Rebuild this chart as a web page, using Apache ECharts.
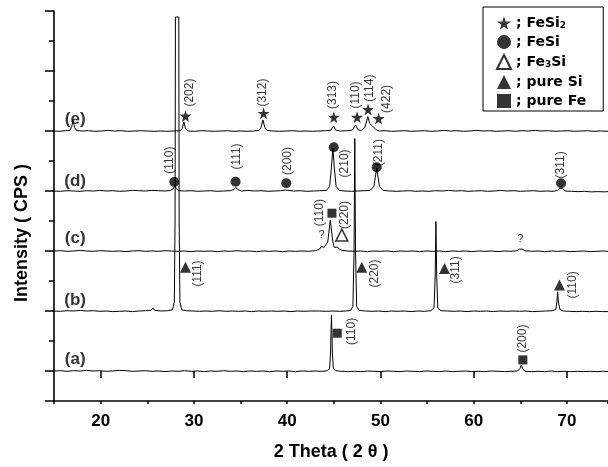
<!DOCTYPE html>
<html><head><meta charset="utf-8">
<script src="https://cdn.jsdelivr.net/npm/echarts@6/dist/echarts.min.js"></script>
<style>html,body{margin:0;padding:0;background:#fff}#c{width:608px;height:467px}</style>
</head><body><div id="c"></div>
<script>
// ---- data (2θ, stacked intensity in tick units) ----
const traceA = [[15,1.00],[15.7,1.01],[16.4,0.99],[17.1,1.01],[17.8,1.00],[18.5,1.02],[19.2,1.00],[19.9,1.01],[20.6,0.99],[21.3,1.00],[22.0,1.02],[22.7,1.01],[23.4,0.99],[24.1,1.00],[24.8,1.01],[25.5,0.99],[26.2,1.00],[26.9,0.98],[27.6,1.00],[28.3,0.99],[29.0,1.01],[29.7,0.99],[30.4,1.00],[31.1,0.98],[31.8,1.00],[32.5,0.99],[33.2,1.01],[33.9,0.99],[34.6,1.00],[35.3,0.98],[36.0,1.00],[36.7,0.99],[37.4,1.00],[38.1,0.98],[38.8,1.00],[39.5,0.99],[40.2,1.00],[40.9,0.98],[41.6,1.00],[42.3,0.99],[43.0,1.00],[43.7,0.99],[44.3,1.01],[44.55,1.08],[44.65,1.6],[44.75,2.87],[44.85,1.6],[44.95,1.08],[45.2,1.01],[45.8,0.99],[46.5,0.98],[47.2,0.99],[47.9,0.98],[48.6,1.00],[49.3,0.99],[50.0,0.98],[50.7,1.00],[51.4,0.99],[52.1,0.98],[52.8,1.00],[53.5,0.99],[54.2,0.98],[54.9,1.00],[55.6,0.99],[56.3,0.98],[57.0,1.00],[57.7,0.98],[58.4,0.99],[59.1,1.00],[59.8,0.98],[60.5,0.99],[61.2,0.98],[61.9,1.00],[62.6,0.99],[63.3,0.98],[64.0,0.99],[64.7,1.00],[64.95,1.08],[65.1,1.2],[65.25,1.08],[65.5,0.99],[66.2,0.98],[66.9,0.99],[67.6,0.98],[68.3,1.00],[69.0,0.98],[69.7,0.99],[70.4,0.98],[71.1,0.99],[71.8,0.98],[72.5,0.99],[73.2,0.98],[73.9,0.99],[74.4,0.98]];
const traceB = [[15,3.00],[15.7,2.99],[16.4,3.01],[17.1,3.00],[17.8,3.02],[18.5,3.00],[19.2,3.01],[19.9,2.99],[20.6,3.00],[21.3,2.98],[22.0,2.99],[22.7,3.00],[23.4,2.98],[24.1,3.00],[24.8,3.01],[25.4,3.02],[25.6,3.10],[25.8,3.02],[26.5,3.00],[27.2,3.01],[27.7,3.04],[27.9,3.3],[27.98,6.0],[28.02,12.8],[28.38,12.8],[28.42,6.0],[28.5,3.3],[28.7,3.04],[29.2,3.01],[29.9,3.00],[30.6,2.99],[31.3,3.00],[32.0,2.99],[32.7,3.01],[33.4,2.99],[34.1,3.00],[34.8,2.99],[35.5,3.00],[36.2,2.98],[36.9,3.00],[37.6,2.99],[38.3,3.00],[39.0,2.99],[39.7,3.00],[40.4,2.98],[41.1,3.00],[41.8,2.99],[42.5,3.00],[43.1,3.00],[43.3,3.05],[43.5,3.00],[44.2,2.99],[44.9,3.00],[45.6,2.99],[46.3,3.00],[46.8,3.02],[47.05,3.15],[47.17,5.0],[47.25,8.75],[47.33,5.0],[47.45,3.15],[47.7,3.02],[48.4,3.00],[49.1,2.99],[49.8,3.00],[50.5,2.98],[51.2,3.00],[51.9,2.99],[52.6,3.00],[53.3,2.98],[54.0,3.00],[54.7,2.99],[55.4,3.01],[55.75,3.1],[55.87,4.2],[55.95,5.98],[56.03,4.2],[56.15,3.1],[56.5,3.01],[57.2,3.00],[57.9,2.99],[58.6,3.00],[59.3,2.98],[60.0,3.00],[60.7,2.99],[61.4,3.00],[62.1,2.98],[62.8,3.00],[63.5,2.99],[64.2,3.00],[64.9,2.99],[65.6,3.00],[66.3,2.98],[67.0,2.99],[67.7,3.00],[68.4,3.01],[68.8,3.05],[68.92,3.3],[69.0,3.64],[69.08,3.3],[69.25,3.05],[69.6,3.00],[70.3,2.99],[71.0,2.98],[71.7,2.99],[72.4,2.98],[73.1,2.99],[73.8,2.98],[74.4,2.98]];
const traceC = [[15,5.00],[15.7,5.01],[16.4,4.99],[17.1,5.00],[17.8,5.02],[18.5,5.00],[19.2,4.99],[19.9,5.01],[20.6,5.00],[21.3,4.99],[22.0,5.00],[22.7,4.98],[23.4,5.00],[24.1,5.01],[24.8,4.99],[25.5,5.00],[26.2,4.99],[26.9,5.01],[27.6,5.00],[28.3,4.99],[29.0,5.00],[29.7,4.98],[30.4,5.00],[31.1,4.99],[31.8,5.00],[32.5,4.98],[33.2,5.00],[33.9,4.99],[34.6,5.01],[35.3,4.99],[36.0,5.00],[36.7,4.98],[37.4,5.00],[38.1,4.99],[38.8,5.00],[39.5,4.98],[40.2,5.00],[40.9,4.99],[41.6,5.00],[42.3,4.99],[43.0,5.01],[43.45,5.05],[43.65,5.15],[43.8,5.2],[43.95,5.12],[44.15,5.1],[44.35,5.3],[44.5,5.7],[44.62,6.03],[44.75,5.7],[44.9,5.3],[45.05,5.12],[45.25,5.1],[45.4,5.13],[45.6,5.06],[45.9,5.02],[46.5,5.00],[47.2,4.99],[47.9,5.00],[48.6,4.98],[49.3,5.00],[50.0,4.99],[50.7,5.00],[51.4,4.98],[52.1,5.00],[52.8,4.99],[53.5,5.00],[54.2,4.98],[54.9,5.00],[55.6,4.99],[56.3,5.00],[57.0,4.98],[57.7,5.00],[58.4,4.99],[59.1,5.00],[59.8,4.98],[60.5,5.00],[61.2,4.99],[61.9,5.00],[62.6,4.98],[63.3,5.00],[64.0,4.99],[64.6,5.01],[64.9,5.06],[65.05,5.10],[65.2,5.06],[65.5,5.01],[66.2,4.99],[66.9,5.00],[67.6,4.98],[68.3,5.00],[69.0,4.99],[69.7,5.00],[70.4,4.98],[71.1,4.99],[71.8,5.00],[72.5,4.98],[73.2,4.99],[73.9,5.00],[74.4,4.99]];
const traceD = [[15,7.00],[15.7,6.99],[16.4,7.01],[17.1,7.00],[17.8,6.99],[18.5,7.01],[19.2,7.00],[19.9,7.02],[20.6,7.00],[21.3,7.01],[22.0,6.99],[22.7,7.00],[23.4,7.02],[24.1,7.01],[24.8,7.00],[25.5,7.02],[26.2,7.01],[26.9,7.00],[27.5,7.02],[27.8,7.08],[27.95,7.17],[28.1,7.08],[28.4,7.01],[29.0,7.00],[29.7,7.01],[30.4,6.99],[31.1,7.00],[31.8,7.01],[32.5,6.99],[33.2,7.00],[33.9,7.01],[34.3,7.05],[34.5,7.12],[34.7,7.05],[35.1,7.00],[35.8,7.02],[36.5,7.00],[37.2,7.01],[37.9,6.99],[38.6,7.00],[39.3,7.01],[39.8,7.03],[40.0,7.06],[40.2,7.02],[40.7,7.00],[41.4,7.01],[42.1,6.99],[42.8,7.00],[43.5,7.01],[44.2,7.02],[44.55,7.15],[44.75,7.8],[44.9,8.43],[45.05,7.8],[45.25,7.15],[45.6,7.02],[46.2,7.00],[46.9,6.99],[47.6,7.00],[48.3,7.01],[48.9,7.02],[49.3,7.15],[49.45,7.45],[49.6,7.78],[49.75,7.45],[49.9,7.15],[50.3,7.02],[51.0,7.00],[51.7,6.99],[52.4,7.00],[53.1,7.01],[53.8,6.99],[54.5,7.00],[55.2,6.99],[55.9,7.01],[56.6,7.00],[57.3,7.02],[58.0,7.00],[58.7,7.01],[59.4,6.99],[60.1,7.00],[60.8,7.01],[61.5,6.99],[62.2,7.00],[62.9,7.02],[63.6,7.00],[64.3,7.01],[65.0,6.99],[65.7,7.00],[66.4,7.01],[67.1,6.99],[67.8,7.00],[68.5,6.99],[69.0,7.02],[69.25,7.1],[69.4,7.14],[69.55,7.08],[69.8,7.00],[70.5,6.99],[71.2,6.98],[71.9,6.99],[72.6,6.97],[73.3,6.98],[74.0,6.97],[74.4,6.98]];
const traceE = [[15,9.00],[15.6,8.99],[16.2,9.01],[16.7,9.02],[16.9,9.15],[17.05,9.37],[17.2,9.12],[17.4,9.02],[18.0,9.00],[18.7,9.01],[19.4,8.99],[20.1,9.00],[20.8,9.02],[21.5,9.00],[22.2,9.01],[22.9,8.99],[23.6,9.00],[24.3,9.01],[25.0,9.00],[25.7,8.99],[26.4,9.00],[27.1,8.99],[27.8,9.00],[28.5,9.01],[28.75,9.08],[28.93,9.31],[29.1,9.08],[29.4,9.00],[30.1,8.99],[30.8,9.01],[31.5,9.00],[32.2,8.99],[32.9,9.00],[33.6,9.01],[34.3,8.99],[35.0,9.00],[35.7,8.99],[36.4,9.00],[37.0,9.02],[37.2,9.12],[37.4,9.37],[37.6,9.12],[37.8,9.02],[38.5,9.00],[39.2,8.99],[39.9,9.00],[40.6,9.01],[41.3,8.99],[42.0,9.00],[42.7,8.99],[43.4,9.00],[44.1,9.01],[44.7,9.03],[44.97,9.17],[45.2,9.03],[45.7,9.00],[46.4,9.01],[47.0,9.03],[47.33,9.2],[47.6,9.04],[47.9,9.02],[48.3,9.1],[48.5,9.3],[48.65,9.48],[48.85,9.25],[49.1,9.18],[49.3,9.15],[49.55,9.04],[49.9,9.00],[50.5,9.01],[51.2,8.99],[51.9,9.00],[52.6,9.01],[53.3,8.99],[54.0,9.00],[54.7,9.01],[55.4,8.99],[56.1,9.00],[56.8,9.02],[57.5,9.00],[58.2,9.01],[58.9,8.99],[59.6,9.00],[60.3,9.02],[61.0,9.00],[61.7,9.01],[62.4,8.99],[63.1,9.00],[63.8,9.01],[64.5,8.99],[65.2,9.01],[65.9,9.00],[66.6,9.02],[67.3,9.00],[68.0,9.01],[68.7,8.99],[69.4,9.00],[70.1,9.01],[70.8,8.99],[71.5,9.00],[72.2,9.01],[72.9,8.99],[73.6,9.00],[74.4,8.99]];

// phase markers
const phaseNames = ['FeSi2', 'FeSi', 'Fe3Si', 'pure Si', 'pure Fe'];
const feSi2Marks = [[29.1,9.5],[37.47,9.59],[45.0,9.46],[47.5,9.46],[48.67,9.72],[49.8,9.42]];
const feSiMarks = [[27.9,7.3],[34.47,7.31],[39.9,7.26],[45.0,8.46],[49.6,7.79],[69.37,7.26]];
const fe3SiMarks = [[45.86,5.53]];
const siMarks = [[29.1,4.46],[48.0,4.46],[56.87,4.42],[69.2,3.87]];
const feMarks = [[44.8,6.26],[45.37,2.26],[65.27,1.37]];

// hkl labels (x, y, text)
const hklLabels = [
  [29.54,10.28,'(202)'],[37.36,10.28,'(312)'],[44.86,10.2,'(313)'],[47.33,10.2,'(110)'],[48.83,10.43,'(114)'],[50.65,10.07,'(422)'],
  [27.4,8.03,'(110)'],[34.6,8.15,'(111)'],[40.04,8.0,'(200)'],[46.22,7.92,'(210)'],[49.79,8.28,'(211)'],[69.37,7.87,'(311)'],
  [43.47,6.28,'(110)'],[46.15,6.2,'(220)'],
  [30.43,4.25,'(111)'],[49.36,4.25,'(220)'],[58.11,4.37,'(311)'],[70.61,3.87,'(110)'],
  [46.87,2.32,'(110)'],[65.25,2.08,'(200)']
];
const traceNames = [[17.27,1.4,'(a)'],[17.27,3.37,'(b)'],[17.27,5.43,'(c)'],[17.27,7.33,'(d)'],[17.27,9.4,'(e)']];
const unknownMarks = [[43.7,5.53,'?'],[65.0,5.39,'?']];

const xTitle = '2 Theta ( 2 θ )';
const yTitle = 'Intensity ( CPS )';

const STAR = 'path://M50,0 L61,35 L98,35 L68,57 L79,91 L50,70 L21,91 L32,57 L2,35 L39,35 Z';
const FONT = 'Liberation Sans';

const chart = echarts.init(document.getElementById('c'), null, {renderer: 'canvas'});

function lineSeries(d) {
  return {type: 'line', data: d, xAxisIndex: 0, yAxisIndex: 0, symbol: 'none', silent: true,
    lineStyle: {color: '#000', width: 1}, z: 2};
}
function markSeries(name, d, symbol, size, itemStyle) {
  return {type: 'scatter', name: name, data: d, xAxisIndex: 0, yAxisIndex: 0, symbol: symbol,
    symbolSize: size, itemStyle: itemStyle, z: 4};
}
function textSeries(d, rotate, size, weight) {
  return {type: 'scatter', data: d, xAxisIndex: 0, yAxisIndex: 0, symbol: 'circle', symbolSize: 0, z: 5,
    silent: true,
    label: {show: true, position: 'inside', rotate: rotate, formatter: p => p.value[2],
      color: '#000', fontFamily: FONT, fontSize: size, fontWeight: weight}};
}

const axisLineStyle = {color: '#000', width: 1.6};

chart.setOption({
  animation: false,
  backgroundColor: '#fff',
  grid: {left: 54, right: 0, top: 11, bottom: 66, containLabel: false},
  legend: {
    data: phaseNames, orient: 'vertical', left: 483, top: 7,
    padding: [9, 17, 3, 13], itemGap: 5, itemWidth: 14, itemHeight: 14,
    borderColor: '#000', borderWidth: 1, backgroundColor: '#fff',
    selectedMode: false,
    formatter: n => '; ' + n.replace(/(\d)/, '{s|$1}'),
    textStyle: {color: '#000', fontFamily: 'DejaVu Sans', fontWeight: 'bold', fontSize: 14,
      rich: {s: {fontFamily: 'DejaVu Sans', fontWeight: 'bold', fontSize: 9, verticalAlign: 'bottom', padding: [4, 0, 0, 0]}}}
  },
  xAxis: [
    {type: 'value', min: 15, max: 74.4, interval: 5, position: 'bottom',
      axisLine: {lineStyle: axisLineStyle}, axisTick: {length: 3, lineStyle: {color: '#000', width: 1.5}},
      axisLabel: {show: false}, splitLine: {show: false}},
    {type: 'value', min: 15, max: 74.4, minInterval: 10, maxInterval: 10, position: 'bottom',
      axisLine: {show: false}, axisTick: {length: 7, lineStyle: {color: '#000', width: 1.5}},
      axisLabel: {show: true, margin: 12, color: '#000', fontFamily: FONT, fontWeight: 'bold', fontSize: 17,
        showMinLabel: false, showMaxLabel: false},
      splitLine: {show: false},
      name: xTitle, nameLocation: 'middle', nameGap: 42,
      nameTextStyle: {color: '#000', fontFamily: FONT, fontWeight: 'bold', fontSize: 18}}
  ],
  yAxis: [
    {type: 'value', min: 0, max: 13, interval: 1, position: 'left',
      axisLine: {lineStyle: axisLineStyle}, axisTick: {length: 5, lineStyle: {color: '#000', width: 1.5}},
      axisLabel: {show: false}, splitLine: {show: false}},
    {type: 'value', min: -1, max: 12, minInterval: 2, maxInterval: 2, position: 'left',
      axisLine: {show: false}, axisTick: {length: 9, lineStyle: {color: '#000', width: 1.5}},
      axisLabel: {show: false}, splitLine: {show: false}}
  ],
  graphic: [{
    type: 'text', x: 22, y: 233, rotation: Math.PI / 2,
    style: {text: yTitle, fill: '#000', font: 'bold 18px "Liberation Sans"', textAlign: 'center', textVerticalAlign: 'middle'}
  }],
  series: [
    lineSeries(traceA), lineSeries(traceB), lineSeries(traceC), lineSeries(traceD), lineSeries(traceE),
    markSeries('FeSi2', feSi2Marks, STAR, 12, {color: '#000'}),
    markSeries('FeSi', feSiMarks, 'circle', 10, {color: '#000'}),
    markSeries('Fe3Si', fe3SiMarks, 'triangle', 12, {color: '#fff', borderColor: '#000', borderWidth: 1.5}),
    markSeries('pure Si', siMarks, 'triangle', 11, {color: '#000'}),
    markSeries('pure Fe', feMarks, 'rect', 9, {color: '#000'}),
    textSeries(hklLabels, 90, 12, 'normal'),
    textSeries(traceNames, 0, 17, 'bold'),
    textSeries(unknownMarks, 0, 11, 'normal')
  ]
});
</script></body></html>
